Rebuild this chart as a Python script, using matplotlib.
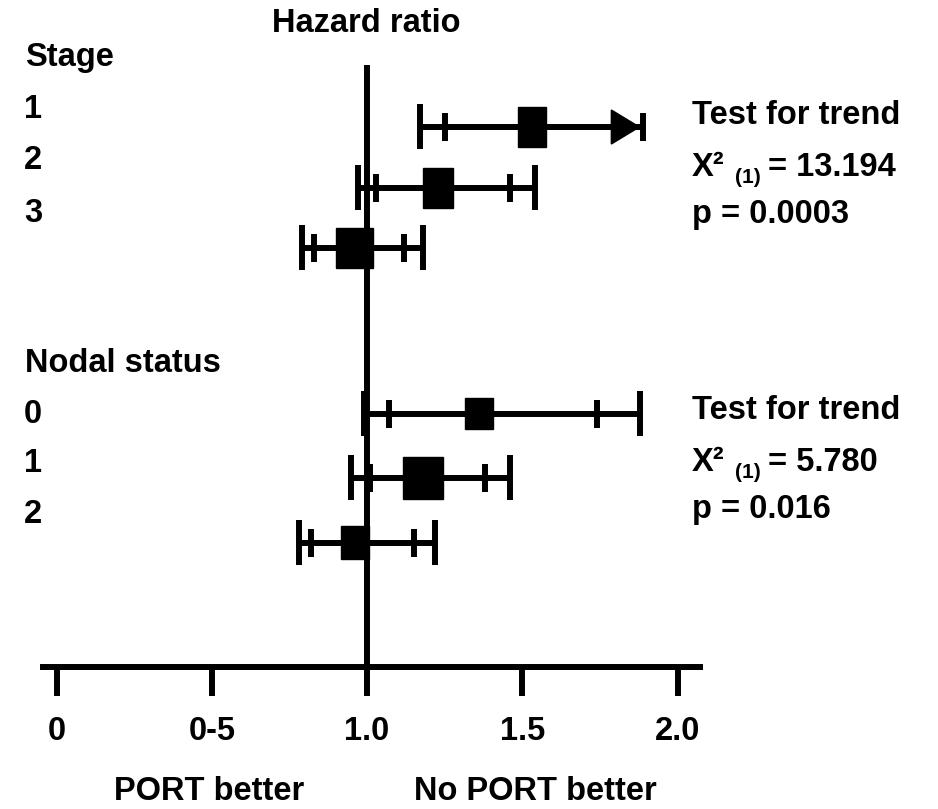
import numpy as np
import matplotlib
matplotlib.use('Agg')
import matplotlib.pyplot as plt
from matplotlib.patches import Rectangle, Polygon

plt.rcParams['font.family'] = ['Liberation Sans', 'DejaVu Sans']
plt.rcParams['font.weight'] = 'bold'

# Données (hazard ratio, IC interne / externe)
stage_labels = ['1', '2', '3']
stage_hr = [1.53, 1.23, 0.96]
stage_in_lo = [1.25, 1.03, 0.83]
stage_in_hi = [1.89, 1.46, 1.12]
stage_out_lo = [1.17, 0.97, 0.79]
stage_out_hi = [np.inf, 1.54, 1.18]   # stade 1 : hors échelle -> flèche

nodal_labels = ['0', '1', '2']
nodal_hr = [1.36, 1.18, 0.96]
nodal_in_lo = [1.07, 1.01, 0.82]
nodal_in_hi = [1.74, 1.38, 1.15]
nodal_out_lo = [0.99, 0.95, 0.78]
nodal_out_hi = [1.88, 1.46, 1.22]

xticks = [0, 0.5, 1.0, 1.5, 2.0]
xticklabels = ['0', '0-5', '1.0', '1.5', '2.0']

trend_stage = ['13.194', '0.0003']
trend_nodal = ['5.780', '0.016']

# Mise en page (pixels)
W, H = 938, 809
PX = 310.5      # pixels par unité de HR
X0 = 56.5       # pixel de HR = 0
LW = 4.3
FS = 23.5

fig = plt.figure(figsize=(W / 100, H / 100), dpi=100)
ax = fig.add_axes([43 / W, 1 - 667 / H, (700 - 43) / W, (667 - 65) / H])
ax.set_xlim((43 - X0) / PX, (700 - X0) / PX)
ax.set_ylim(667, 65)


def draw_row(y, hr, ilo, ihi, olo, ohi, bw, bh):
    right = ohi if np.isfinite(ohi) else ihi
    ax.plot([olo, right], [y, y], color='black', lw=LW, solid_capstyle='butt', zorder=2)
    ax.vlines([olo], y - 22.5, y + 22.5, color='black', lw=LW, zorder=2)
    if np.isfinite(ohi):
        ax.vlines([ohi], y - 22.5, y + 22.5, color='black', lw=LW, zorder=2)
    else:
        tip = ihi - 4 / PX
        ax.add_patch(Polygon([(tip, y), (tip - 28 / PX, y - 17), (tip - 28 / PX, y + 17)],
                             closed=True, color='black', zorder=3))
    ax.vlines([ilo, ihi], y - 14, y + 14, color='black', lw=LW, zorder=2)
    ax.add_patch(Rectangle((hr - bw / 2 / PX, y - bh / 2), bw / PX, bh,
                           color='black', zorder=3))


stage_y = [127, 188, 248]
stage_box = [(28, 40), (30, 40), (37, 40)]
for i in range(3):
    draw_row(stage_y[i], stage_hr[i], stage_in_lo[i], stage_in_hi[i],
             stage_out_lo[i], stage_out_hi[i], *stage_box[i])

nodal_y = [414, 478, 543]
nodal_box = [(28, 31), (40, 42), (28, 33)]
for i in range(3):
    draw_row(nodal_y[i], nodal_hr[i], nodal_in_lo[i], nodal_in_hi[i],
             nodal_out_lo[i], nodal_out_hi[i], *nodal_box[i])

ax.axvline(1.0, color='black', lw=LW, zorder=1)

for s in ['top', 'right', 'left']:
    ax.spines[s].set_visible(False)
ax.spines['bottom'].set_linewidth(LW)
ax.set_xticks(xticks)
ax.set_xticklabels(xticklabels)
ax.tick_params(axis='x', length=21, width=LW, pad=14, labelsize=FS)
ax.tick_params(axis='y', left=False, labelleft=False)


def label(x, y, s, size=FS, ha='left'):
    fig.text(x / W, 1 - y / H, s, fontsize=size, ha=ha, va='baseline', fontweight='bold')


label(366, 32, 'Hazard ratio', ha='center')

label(25, 66, 'Stage')
for lab, yb in zip(stage_labels, [118, 169, 222]):
    label(24, yb, lab)
label(25, 372, 'Nodal status')
for lab, yb in zip(nodal_labels, [423, 472, 523]):
    label(24, yb, lab)

for base, vals in [(124, trend_stage), (419, trend_nodal)]:
    label(692, base, 'Test for trend')
    label(692, base + 52, 'X²')
    label(735, base + 59, '(1)', size=15)
    label(768, base + 52, '= ' + vals[0])
    label(692, base + 99, 'p = ' + vals[1])

label(209, 800, 'PORT better', ha='center')
label(535, 800, 'No PORT better', ha='center')

plt.savefig('out.png', dpi=100)
